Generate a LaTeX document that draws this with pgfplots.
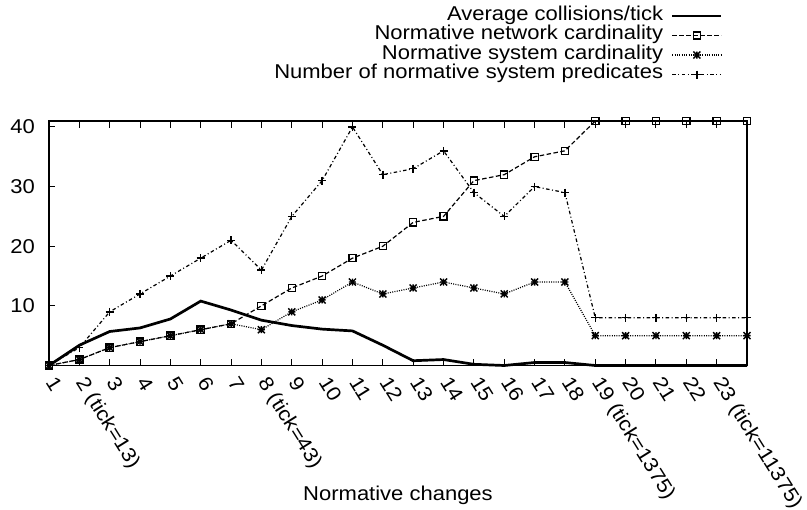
\documentclass[border=0pt]{standalone}
\usepackage{fontspec}
\setmainfont[FakeStretch=1.1]{Liberation Sans}
\usepackage{pgfplots}
\pgfplotsset{compat=1.18}

\pgfdeclareplotmark{gpstar}{%
  \pgfpathmoveto{\pgfqpoint{-\pgfplotmarksize}{0pt}}\pgfpathlineto{\pgfqpoint{\pgfplotmarksize}{0pt}}%
  \pgfpathmoveto{\pgfqpoint{0pt}{-\pgfplotmarksize}}\pgfpathlineto{\pgfqpoint{0pt}{\pgfplotmarksize}}%
  \pgfpathmoveto{\pgfqpoint{-\pgfplotmarksize}{-\pgfplotmarksize}}\pgfpathlineto{\pgfqpoint{\pgfplotmarksize}{\pgfplotmarksize}}%
  \pgfpathmoveto{\pgfqpoint{-\pgfplotmarksize}{\pgfplotmarksize}}\pgfpathlineto{\pgfqpoint{\pgfplotmarksize}{-\pgfplotmarksize}}%
  \pgfusepathqstroke}

\pgfplotstableread{
x coll net sys pred
1  0.0  0  0  0
2  3.4  1  1  3
3  5.7  3  3  9
4  6.3  4  4  12
5  7.8  5  5  15
6  10.8 6  6  18
7  9.3  7  7  21
8  7.6  10 6  16
9  6.7  13 9  25
10 6.1  15 11 31
11 5.8  18 14 40
12 3.4  20 12 32
13 0.8  24 13 33
14 1.0  25 14 36
15 0.2  31 13 29
16 0.0  32 12 25
17 0.5  35 14 30
18 0.5  36 14 29
19 0.0  41 5  8
20 0.0  41 5  8
21 0.0  41 5  8
22 0.0  41 5  8
23 0.0  41 5  8
24 0.0  41 5  8
}\datatable

\begin{document}
\begin{tikzpicture}[font=\fontsize{20bp}{23bp}\selectfont]
\useasboundingbox (-49bp,-144.5bp) rectangle (758bp,365.5bp);
\begin{axis}[
  scale only axis,
  width=698bp, height=244.5bp,
  xmin=1, xmax=24, ymin=0, ymax=41,
  xtick={1,...,24},
  xticklabels={1,2 (tick=13),3,4,5,6,7,8 (tick=43),9,10,11,12,13,14,15,16,17,18,19 (tick=1375),20,21,22,23 (tick=11375),{}},
  ytick={10,20,30,40},
  xtick pos=both, ytick pos=left,
  tick align=inside,
  major tick length=6.5bp,
  axis line style={line width=1.2bp},
  every tick/.style={line width=1bp, black},
  /pgf/number format/assume math mode=true,
  yticklabel style={inner sep=0pt, xshift=-14bp},
  xticklabel style={yshift=-13bp, rotate=-58, anchor=west, inner sep=1bp,
    text height=15bp, text depth=4.3bp, font=\fontsize{20bp}{24bp}\selectfont},
  xlabel={Normative changes},
  xlabel style={at={(axis description cs:0.5,-0.53)}, anchor=center},
  legend plot pos=right,
  legend cell align=right,
  legend style={draw=none, fill=none, at={(axis description cs:0.9656,1.47)}, anchor=north east,
    row sep=0pt, column sep=7bp, inner sep=0pt,
    nodes={inner sep=1bp, text height=13bp, text depth=4.5bp}},
  legend image code/.code={\draw[mark repeat=2,mark phase=2,#1] plot coordinates {(0bp,0bp) (24.5bp,0bp) (49bp,0bp)};},
  clip=false,
]
\addplot[black, line width=2.7bp] table[x=x,y=coll] {\datatable};
\addlegendentry{Average collisions/tick}
\addplot[black, line width=1.2bp, dash pattern=on 4.5bp off 2.5bp, mark=square, mark size=3.6bp, mark options={solid, line width=1.3bp}] table[x=x,y=net] {\datatable};
\addlegendentry{Normative network cardinality}
\addplot[black, line width=1.2bp, dash pattern=on 1bp off 1.3bp, mark=gpstar, mark size=3.5bp, mark options={solid, line width=1.4bp}] table[x=x,y=sys] {\datatable};
\addlegendentry{Normative system cardinality}
\addplot[black, line width=1.2bp, dash pattern=on 3.5bp off 2.5bp on 1bp off 2.5bp, mark=+, mark size=4bp, mark options={solid, line width=1.4bp}] table[x=x,y=pred] {\datatable};
\addlegendentry{Number of normative system predicates}
\end{axis}
\end{tikzpicture}
\end{document}
